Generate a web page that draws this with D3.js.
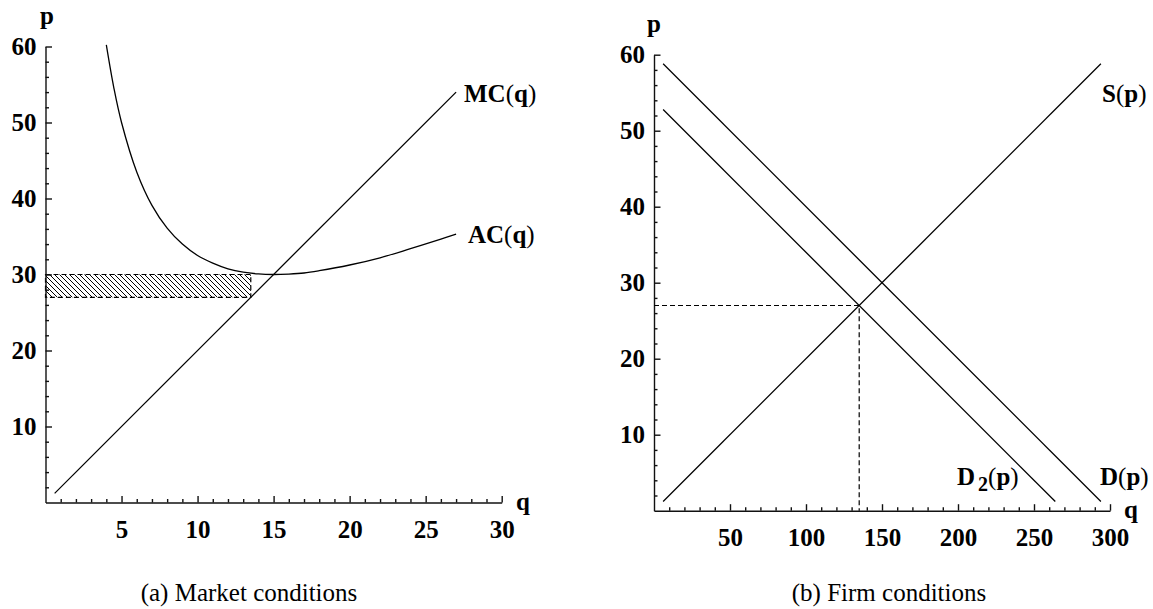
<!DOCTYPE html>
<html>
<head>
<meta charset="utf-8">
<script src="https://cdn.jsdelivr.net/npm/d3@7"></script>
<style>
  html, body { margin: 0; padding: 0; background: #fff; }
  svg { display: block; }
  .tick text { font-family: "Liberation Serif", "Times New Roman", serif; font-weight: bold; font-size: 25px; fill: #000; }
  .lbl { font-family: "Liberation Serif", "Times New Roman", serif; font-weight: bold; font-size: 25px; fill: #000; }
  .cap { font-family: "Liberation Serif", "Times New Roman", serif; font-size: 25px; fill: #000; }
</style>
</head>
<body>
<script>
// ---------- Data ----------
// Panel (a): market conditions
const xTicksA = [5, 10, 15, 20, 25, 30];
const yTicks = [10, 20, 30, 40, 50, 60];
const mcQ = [0.6, 27];
const mcP = [1.2, 54];
const acQ = [4.0, 4.5, 5, 6, 7, 8, 9, 10, 11, 12, 13, 14, 15, 16, 17, 18, 20, 22, 24, 26, 27];
const acP = [60.2, 54.5, 50.0, 43.5, 39.1, 36.1, 34.0, 32.5, 31.5, 30.75, 30.3, 30.07, 30.0, 30.06, 30.2, 30.5, 31.25, 32.2, 33.4, 34.65, 35.3];
const hatchQ = [0, 13.5];
const hatchP = [27, 30];
// Panel (b): firm conditions
const xTicksB = [50, 100, 150, 200, 250, 300];
const sQ = [6, 294];
const sP = [1.2, 58.8];
const dQ = [6, 294];
const dP = [58.8, 1.2];
const d2Q = [6, 264];
const d2P = [52.8, 1.2];
const eqQ = 135;
const eqP = 27;
const captions = ["(a) Market conditions", "(b) Firm conditions"];

// ---------- Drawing ----------
const W = 1153, H = 609;
const svg = d3.select("body").append("svg").attr("width", W).attr("height", H);
svg.append("rect").attr("width", W).attr("height", H).attr("fill", "#fff");

const defs = svg.append("defs");
const pat = defs.append("pattern").attr("id", "hatch")
  .attr("patternUnits", "userSpaceOnUse").attr("width", 5).attr("height", 5);
pat.append("path").attr("d", "M-1,-1 L6,6 M-1,4 L1,6 M4,-1 L6,1")
  .attr("stroke", "#000").attr("stroke-width", 1);

function range(a, b, step) { const r = []; for (let v = a; v <= b + 1e-9; v += step) r.push(+v.toFixed(6)); return r; }

function drawAxes(g, x, y, xMajor, xMinorStep, yMajor, yMinorStep) {
  const xMax = x.domain()[1], yMax = y.domain()[1];
  const xMinor = range(xMinorStep, xMax, xMinorStep).filter(v => !xMajor.includes(v));
  const yMinor = range(yMinorStep, yMax, yMinorStep).filter(v => !yMajor.includes(v));
  const y0 = y(0), x0 = x(0);
  g.append("g").attr("transform", `translate(0,${y0})`)
    .call(d3.axisBottom(x).tickValues(xMinor).tickSizeInner(-3.5).tickSizeOuter(0).tickFormat(""))
    .call(s => s.select(".domain").remove());
  g.append("g").attr("transform", `translate(${x0},0)`)
    .call(d3.axisLeft(y).tickValues(yMinor).tickSizeInner(-3.5).tickSizeOuter(0).tickFormat(""))
    .call(s => s.select(".domain").remove());
  g.append("g").attr("transform", `translate(0,${y0})`)
    .call(d3.axisBottom(x).tickValues(xMajor).tickSizeInner(-6.5).tickSizeOuter(0).tickPadding(18));
  g.append("g").attr("transform", `translate(${x0},0)`)
    .call(d3.axisLeft(y).tickValues(yMajor).tickSizeInner(-6.5).tickSizeOuter(0).tickPadding(9));
  g.selectAll(".domain, .tick line").attr("stroke", "#111").attr("stroke-width", 1.4);
  g.selectAll(".tick text").attr("font-family", null).attr("font-size", null);
}

function lbl(g, x, yb, parts) {
  const t = g.append("text").attr("class", "lbl").attr("x", x).attr("y", yb);
  parts.forEach(p => {
    const ts = t.append("tspan").text(p.t);
    if (p.n) ts.attr("font-weight", "normal");
  });
  return t;
}

const line = (x, y) => d3.line().x(d => x(d[0])).y(d => y(d[1]));

// ---- Panel (a)
{
  const g = svg.append("g");
  const x = d3.scaleLinear().domain([0, 30]).range([45.5, 501.7]);
  const y = d3.scaleLinear().domain([0, 60]).range([502.5, 46.5]);

  g.append("rect")
    .attr("x", x(hatchQ[0])).attr("y", y(hatchP[1]))
    .attr("width", x(hatchQ[1]) - x(hatchQ[0])).attr("height", y(hatchP[0]) - y(hatchP[1]))
    .attr("fill", "url(#hatch)").attr("stroke", "#000").attr("stroke-width", 1.2)
    .attr("stroke-dasharray", "5,3");

  drawAxes(g, x, y, xTicksA, 1, yTicks, 2);

  g.append("path").datum(mcQ.map((q, i) => [q, mcP[i]]))
    .attr("d", line(x, y)).attr("fill", "none").attr("stroke", "#000").attr("stroke-width", 1.3);
  g.append("path").datum(acQ.map((q, i) => [q, acP[i]]))
    .attr("d", line(x, y).curve(d3.curveCatmullRom)).attr("fill", "none").attr("stroke", "#000").attr("stroke-width", 1.3);

  lbl(g, 40, 24, [{t: "p"}]);
  lbl(g, 516, 510, [{t: "q"}]);
  lbl(g, 464, 102, [{t: "MC"}, {t: "(", n: 1}, {t: "q"}, {t: ")", n: 1}]);
  lbl(g, 468, 243, [{t: "AC"}, {t: "(", n: 1}, {t: "q"}, {t: ")", n: 1}]);

  g.append("text").attr("class", "cap").attr("x", 249).attr("y", 601)
    .attr("text-anchor", "middle").text(captions[0]);
}

// ---- Panel (b)
{
  const g = svg.append("g");
  const x = d3.scaleLinear().domain([0, 300]).range([654, 1110]);
  const y = d3.scaleLinear().domain([0, 60]).range([510.7, 54.7]);

  drawAxes(g, x, y, xTicksB, 10, yTicks, 2);

  g.append("path").datum([[0, eqP], [eqQ, eqP], [eqQ, 0]])
    .attr("d", line(x, y)).attr("fill", "none").attr("stroke", "#000")
    .attr("stroke-width", 1.2).attr("stroke-dasharray", "5,3");

  [[sQ, sP], [dQ, dP], [d2Q, d2P]].forEach(([qs, ps]) => {
    g.append("path").datum(qs.map((q, i) => [q, ps[i]]))
      .attr("d", line(x, y)).attr("fill", "none").attr("stroke", "#000").attr("stroke-width", 1.3);
  });

  lbl(g, 647, 32, [{t: "p"}]);
  lbl(g, 1124, 518, [{t: "q"}]);
  lbl(g, 1102, 102, [{t: "S"}, {t: "(", n: 1}, {t: "p"}, {t: ")", n: 1}]);
  lbl(g, 1100, 485, [{t: "D"}, {t: "(", n: 1}, {t: "p"}, {t: ")", n: 1}]);
  const t2 = g.append("text").attr("class", "lbl").attr("x", 957).attr("y", 485);
  t2.append("tspan").text("D");
  t2.append("tspan").text("2").attr("font-size", "20px").attr("dy", 6).attr("dx", 3);
  t2.append("tspan").text("(").attr("font-weight", "normal").attr("dy", -6);
  t2.append("tspan").text("p");
  t2.append("tspan").text(")").attr("font-weight", "normal");

  g.append("text").attr("class", "cap").attr("x", 889).attr("y", 601)
    .attr("text-anchor", "middle").text(captions[1]);
}
</script>
</body>
</html>
